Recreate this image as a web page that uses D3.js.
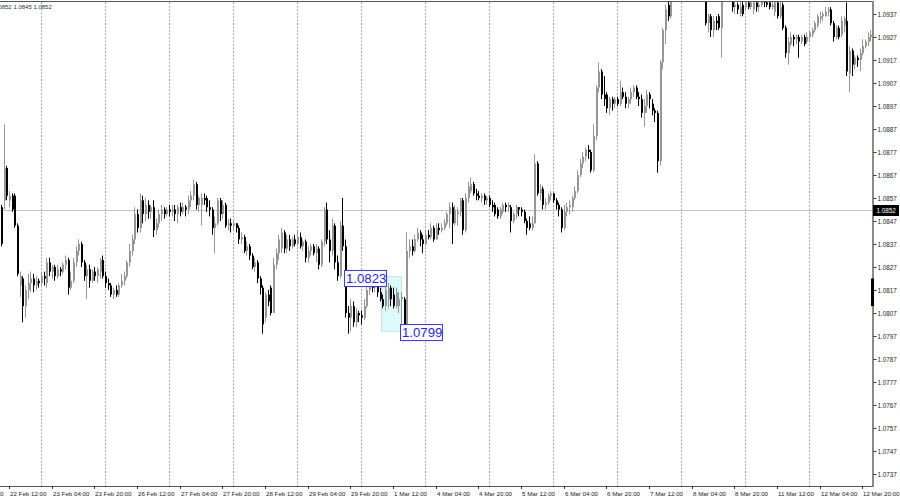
<!DOCTYPE html>
<html><head><meta charset="utf-8">
<script src="https://cdn.jsdelivr.net/npm/d3@7"></script>
<style>
html,body{margin:0;padding:0;background:#fff;}
svg{display:block;font-family:"Liberation Sans",Arial,sans-serif;}
</style></head>
<body><svg id="c" width="900" height="500"></svg>
<script>
// ---------- DATA (EURUSD H1) ----------
const opens = [
1.0853,1.0856,1.0870,1.0856,1.0858,1.0858,1.0845,1.0819,1.0822,1.0810,
1.0817,1.0820,1.0822,1.0819,1.0821,1.0820,1.0823,1.0820,1.0829,1.0825,
1.0827,1.0823,1.0826,1.0825,1.0828,1.0830,1.0818,1.0821,1.0829,1.0834,
1.0837,1.0829,1.0823,1.0826,1.0821,1.0825,1.0823,1.0825,1.0830,1.0823,
1.0820,1.0819,1.0815,1.0817,1.0815,1.0819,1.0821,1.0823,1.0829,1.0834,
1.0839,1.0850,1.0844,1.0856,1.0850,1.0854,1.0851,1.0853,1.0843,1.0846,
1.0850,1.0852,1.0850,1.0852,1.0851,1.0852,1.0850,1.0853,1.0851,1.0853,
1.0852,1.0856,1.0858,1.0863,1.0854,1.0854,1.0857,1.0857,1.0853,1.0852,
1.0844,1.0846,1.0856,1.0850,1.0854,1.0845,1.0846,1.0845,1.0846,1.0844,
1.0839,1.0840,1.0834,1.0836,1.0832,1.0827,1.0829,1.0822,1.0818,1.0805,
1.0815,1.0818,1.0807,1.0828,1.0833,1.0835,1.0842,1.0835,1.0839,1.0836,
1.0839,1.0837,1.0840,1.0836,1.0838,1.0831,1.0834,1.0836,1.0833,1.0835,
1.0828,1.0838,1.0852,1.0839,1.0834,1.0845,1.0829,1.0823,1.0845,1.0836,
1.0807,1.0805,1.0810,1.0803,1.0807,1.0806,1.0805,1.0810,1.0817,1.0820,
1.0818,1.0819,1.0816,1.0813,1.0810,1.0813,1.0818,1.0815,1.0810,1.0810,
1.0813,1.0813,1.0802,1.0834,1.0836,1.0834,1.0839,1.0842,1.0839,1.0837,
1.0841,1.0840,1.0844,1.0839,1.0844,1.0843,1.0844,1.0846,1.0850,1.0853,
1.0846,1.0850,1.0851,1.0856,1.0843,1.0857,1.0860,1.0863,1.0859,1.0858,
1.0857,1.0858,1.0856,1.0857,1.0854,1.0854,1.0852,1.0849,1.0851,1.0854,
1.0853,1.0853,1.0847,1.0850,1.0853,1.0852,1.0851,1.0847,1.0846,1.0844,
1.0846,1.0872,1.0859,1.0861,1.0854,1.0855,1.0858,1.0859,1.0856,1.0854,
1.0852,1.0844,1.0851,1.0853,1.0853,1.0857,1.0860,1.0867,1.0872,1.0875,
1.0878,1.0877,1.0869,1.0884,1.0905,1.0912,1.0902,1.0902,1.0896,1.0900,
1.0898,1.0900,1.0898,1.0903,1.0901,1.0898,1.0900,1.0903,1.0905,1.0901,
1.0900,1.0894,1.0897,1.0902,1.0898,1.0895,1.0894,1.0873,1.0916,1.0930,
1.0941,1.0936,1.0945,1.0950,1.0956,1.0959,1.0955,1.0958,1.0964,1.0962,
1.0966,1.0963,1.0957,1.0952,1.0948,1.0933,1.0936,1.0930,1.0934,1.0936,
1.0931,1.0945,1.0949,1.0947,1.0944,1.0940,1.0941,1.0937,1.0941,1.0940,
1.0942,1.0940,1.0939,1.0942,1.0940,1.0941,1.0944,1.0942,1.0942,1.0940,
1.0938,1.0942,1.0936,1.0941,1.0931,1.0920,1.0924,1.0927,1.0926,1.0927,
1.0925,1.0927,1.0925,1.0927,1.0928,1.0930,1.0932,1.0935,1.0936,1.0936,
1.0938,1.0939,1.0933,1.0927,1.0931,1.0928,1.0932,1.0934,1.0911,1.0921,
1.0915,1.0918,1.0917,1.0920,1.0923,1.0925,1.0927];
const highs = [
1.0854,1.0889,1.0871,1.0860,1.0859,1.0859,1.0846,1.0825,1.0823,1.0819,
1.0824,1.0825,1.0824,1.0823,1.0822,1.0825,1.0825,1.0831,1.0831,1.0828,
1.0828,1.0828,1.0827,1.0829,1.0832,1.0831,1.0825,1.0831,1.0836,1.0839,
1.0838,1.0830,1.0828,1.0828,1.0826,1.0827,1.0827,1.0831,1.0832,1.0825,
1.0822,1.0820,1.0818,1.0819,1.0820,1.0824,1.0825,1.0830,1.0837,1.0841,
1.0853,1.0852,1.0859,1.0858,1.0857,1.0856,1.0854,1.0856,1.0848,1.0852,
1.0854,1.0853,1.0853,1.0854,1.0854,1.0854,1.0854,1.0855,1.0855,1.0854,
1.0858,1.0860,1.0865,1.0864,1.0858,1.0859,1.0859,1.0858,1.0856,1.0853,
1.0849,1.0857,1.0857,1.0856,1.0855,1.0848,1.0848,1.0847,1.0846,1.0845,
1.0842,1.0841,1.0838,1.0837,1.0833,1.0831,1.0830,1.0823,1.0819,1.0816,
1.0817,1.0819,1.0831,1.0835,1.0841,1.0844,1.0843,1.0841,1.0841,1.0840,
1.0841,1.0843,1.0842,1.0839,1.0839,1.0836,1.0837,1.0837,1.0837,1.0836,
1.0839,1.0853,1.0855,1.0843,1.0848,1.0846,1.0832,1.0847,1.0857,1.0839,
1.0810,1.0813,1.0812,1.0809,1.0808,1.0808,1.0813,1.0819,1.0823,1.0822,
1.0821,1.0820,1.0818,1.0815,1.0819,1.0820,1.0819,1.0818,1.0818,1.0816,
1.0816,1.0814,1.0842,1.0839,1.0839,1.0841,1.0844,1.0843,1.0841,1.0843,
1.0843,1.0846,1.0845,1.0846,1.0846,1.0846,1.0848,1.0851,1.0855,1.0855,
1.0854,1.0853,1.0857,1.0857,1.0859,1.0864,1.0866,1.0864,1.0861,1.0860,
1.0859,1.0859,1.0858,1.0858,1.0856,1.0855,1.0853,1.0853,1.0855,1.0855,
1.0855,1.0854,1.0851,1.0854,1.0853,1.0853,1.0852,1.0848,1.0849,1.0849,
1.0876,1.0873,1.0863,1.0862,1.0857,1.0859,1.0860,1.0859,1.0857,1.0855,
1.0853,1.0854,1.0855,1.0856,1.0858,1.0862,1.0869,1.0874,1.0877,1.0879,
1.0880,1.0878,1.0889,1.0906,1.0916,1.0913,1.0910,1.0903,1.0901,1.0901,
1.0901,1.0901,1.0908,1.0905,1.0903,1.0901,1.0905,1.0906,1.0906,1.0903,
1.0902,1.0900,1.0904,1.0903,1.0900,1.0896,1.0895,1.0917,1.0931,1.0941,
1.0943,1.0947,1.0952,1.0958,1.0962,1.0963,1.0960,1.0966,1.0970,1.0968,
1.0972,1.0966,1.0960,1.0956,1.0949,1.0937,1.0937,1.0936,1.0936,1.0937,
1.0947,1.0952,1.0955,1.0951,1.0945,1.0944,1.0942,1.0942,1.0943,1.0944,
1.0944,1.0944,1.0944,1.0943,1.0944,1.0946,1.0946,1.0944,1.0944,1.0944,
1.0944,1.0944,1.0943,1.0942,1.0932,1.0927,1.0929,1.0928,1.0928,1.0928,
1.0928,1.0928,1.0929,1.0930,1.0931,1.0934,1.0937,1.0938,1.0938,1.0940,
1.0940,1.0940,1.0934,1.0932,1.0932,1.0936,1.0936,1.0942,1.0923,1.0922,
1.0919,1.0919,1.0922,1.0926,1.0926,1.0929,1.0930];
const lows = [
1.0836,1.0852,1.0856,1.0853,1.0851,1.0844,1.0823,1.0814,1.0803,1.0805,
1.0813,1.0816,1.0816,1.0817,1.0818,1.0819,1.0819,1.0818,1.0823,1.0822,
1.0821,1.0822,1.0823,1.0824,1.0826,1.0815,1.0817,1.0820,1.0827,1.0832,
1.0827,1.0821,1.0813,1.0818,1.0820,1.0821,1.0820,1.0822,1.0822,1.0818,
1.0817,1.0814,1.0813,1.0814,1.0814,1.0818,1.0819,1.0822,1.0827,1.0832,
1.0837,1.0842,1.0842,1.0846,1.0847,1.0848,1.0848,1.0840,1.0841,1.0844,
1.0847,1.0848,1.0849,1.0849,1.0849,1.0847,1.0846,1.0849,1.0850,1.0849,
1.0850,1.0853,1.0856,1.0852,1.0851,1.0845,1.0854,1.0851,1.0849,1.0841,
1.0833,1.0845,1.0847,1.0848,1.0844,1.0843,1.0842,1.0843,1.0842,1.0837,
1.0837,1.0833,1.0832,1.0830,1.0826,1.0825,1.0820,1.0815,1.0798,1.0803,
1.0810,1.0806,1.0807,1.0826,1.0830,1.0833,1.0833,1.0833,1.0834,1.0835,
1.0836,1.0836,1.0835,1.0834,1.0829,1.0829,1.0832,1.0832,1.0829,1.0826,
1.0827,1.0836,1.0837,1.0829,1.0832,1.0826,1.0821,1.0822,1.0834,1.0805,
1.0798,1.0799,1.0801,1.0801,1.0803,1.0802,1.0804,1.0809,1.0815,1.0816,
1.0816,1.0814,1.0812,1.0809,1.0808,1.0809,1.0810,1.0809,1.0809,1.0807,
1.0799,1.0799,1.0801,1.0831,1.0832,1.0833,1.0838,1.0836,1.0833,1.0836,
1.0839,1.0839,1.0838,1.0839,1.0841,1.0842,1.0843,1.0845,1.0844,1.0837,
1.0845,1.0845,1.0849,1.0841,1.0842,1.0855,1.0859,1.0858,1.0856,1.0856,
1.0855,1.0854,1.0854,1.0853,1.0851,1.0849,1.0848,1.0848,1.0850,1.0851,
1.0851,1.0842,1.0846,1.0848,1.0849,1.0849,1.0846,1.0841,1.0843,1.0843,
1.0846,1.0858,1.0856,1.0852,1.0852,1.0854,1.0856,1.0855,1.0852,1.0849,
1.0842,1.0843,1.0849,1.0850,1.0851,1.0856,1.0859,1.0866,1.0870,1.0873,
1.0874,1.0868,1.0868,1.0882,1.0903,1.0900,1.0897,1.0894,1.0893,1.0895,
1.0896,1.0897,1.0897,1.0900,1.0896,1.0896,1.0898,1.0901,1.0900,1.0897,
1.0892,1.0888,1.0894,1.0896,1.0893,1.0890,1.0868,1.0871,1.0913,1.0924,
1.0934,1.0935,1.0944,1.0948,1.0953,1.0954,1.0951,1.0956,1.0959,1.0958,
1.0961,1.0955,1.0950,1.0946,1.0932,1.0929,1.0927,1.0927,1.0930,1.0930,
1.0918,1.0944,1.0945,1.0944,1.0938,1.0937,1.0937,1.0936,1.0936,1.0939,
1.0939,1.0939,1.0937,1.0938,1.0938,1.0940,1.0940,1.0940,1.0939,1.0939,
1.0936,1.0935,1.0935,1.0930,1.0918,1.0915,1.0923,1.0923,1.0924,1.0918,
1.0924,1.0923,1.0924,1.0925,1.0927,1.0929,1.0931,1.0933,1.0934,1.0936,
1.0936,1.0932,1.0925,1.0926,1.0926,1.0927,1.0929,1.0910,1.0903,1.0910,
1.0913,1.0914,1.0912,1.0919,1.0922,1.0923,1.0925];
const closes = [
1.0837,1.0870,1.0858,1.0858,1.0852,1.0845,1.0824,1.0823,1.0810,1.0817,
1.0820,1.0822,1.0819,1.0821,1.0820,1.0823,1.0822,1.0829,1.0825,1.0827,
1.0823,1.0826,1.0825,1.0828,1.0830,1.0818,1.0821,1.0829,1.0834,1.0837,
1.0829,1.0823,1.0826,1.0821,1.0825,1.0823,1.0826,1.0830,1.0823,1.0820,
1.0819,1.0815,1.0817,1.0815,1.0819,1.0821,1.0823,1.0829,1.0834,1.0839,
1.0850,1.0844,1.0856,1.0850,1.0854,1.0851,1.0853,1.0843,1.0846,1.0850,
1.0852,1.0850,1.0852,1.0851,1.0852,1.0850,1.0853,1.0851,1.0853,1.0852,
1.0856,1.0858,1.0863,1.0854,1.0857,1.0857,1.0856,1.0853,1.0852,1.0844,
1.0846,1.0856,1.0850,1.0854,1.0845,1.0846,1.0845,1.0846,1.0844,1.0839,
1.0840,1.0834,1.0836,1.0832,1.0827,1.0829,1.0822,1.0818,1.0802,1.0815,
1.0812,1.0807,1.0828,1.0833,1.0839,1.0842,1.0835,1.0839,1.0836,1.0839,
1.0837,1.0840,1.0836,1.0838,1.0831,1.0834,1.0836,1.0833,1.0835,1.0828,
1.0838,1.0852,1.0839,1.0834,1.0845,1.0829,1.0823,1.0845,1.0836,1.0807,
1.0805,1.0810,1.0803,1.0807,1.0806,1.0805,1.0810,1.0817,1.0820,1.0818,
1.0819,1.0816,1.0813,1.0810,1.0817,1.0818,1.0813,1.0810,1.0816,1.0813,
1.0814,1.0802,1.0834,1.0836,1.0834,1.0839,1.0842,1.0839,1.0837,1.0841,
1.0840,1.0844,1.0839,1.0844,1.0843,1.0844,1.0846,1.0850,1.0853,1.0846,
1.0852,1.0851,1.0856,1.0843,1.0857,1.0862,1.0863,1.0859,1.0858,1.0857,
1.0858,1.0856,1.0857,1.0854,1.0853,1.0850,1.0849,1.0852,1.0854,1.0853,
1.0854,1.0847,1.0850,1.0853,1.0852,1.0851,1.0847,1.0844,1.0844,1.0846,
1.0872,1.0859,1.0861,1.0854,1.0855,1.0858,1.0859,1.0856,1.0854,1.0852,
1.0844,1.0851,1.0853,1.0854,1.0857,1.0860,1.0867,1.0872,1.0875,1.0878,
1.0877,1.0869,1.0884,1.0905,1.0912,1.0902,1.0900,1.0896,1.0900,1.0898,
1.0900,1.0898,1.0903,1.0901,1.0898,1.0900,1.0903,1.0905,1.0901,1.0900,
1.0894,1.0897,1.0902,1.0900,1.0895,1.0894,1.0873,1.0916,1.0930,1.0939,
1.0936,1.0945,1.0950,1.0956,1.0959,1.0955,1.0958,1.0964,1.0962,1.0966,
1.0963,1.0957,1.0952,1.0948,1.0933,1.0936,1.0930,1.0934,1.0933,1.0931,
1.0945,1.0949,1.0947,1.0946,1.0940,1.0941,1.0939,1.0940,1.0937,1.0942,
1.0940,1.0942,1.0942,1.0940,1.0941,1.0944,1.0942,1.0941,1.0940,1.0941,
1.0942,1.0936,1.0940,1.0931,1.0920,1.0925,1.0927,1.0926,1.0927,1.0925,
1.0927,1.0924,1.0927,1.0929,1.0930,1.0933,1.0936,1.0936,1.0937,1.0938,
1.0939,1.0933,1.0927,1.0931,1.0927,1.0934,1.0935,1.0912,1.0921,1.0915,
1.0918,1.0917,1.0920,1.0923,1.0925,1.0927,1.0928];

const priceTicks = [1.0737,1.0747,1.0757,1.0767,1.0777,1.0787,1.0797,1.0807,1.0817,1.0827,
  1.0837,1.0847,1.0857,1.0867,1.0877,1.0887,1.0897,1.0907,1.0917,1.0927,1.0937];
const timeLabels = ["21 Feb 20:00","22 Feb 12:00","23 Feb 04:00","23 Feb 20:00","26 Feb 12:00",
  "27 Feb 04:00","27 Feb 20:00","28 Feb 12:00","29 Feb 04:00","29 Feb 20:00","1 Mar 12:00",
  "4 Mar 04:00","4 Mar 20:00","5 Mar 12:00","6 Mar 04:00","6 Mar 20:00","7 Mar 12:00",
  "8 Mar 04:00","8 Mar 20:00","11 Mar 12:00","12 Mar 04:00","12 Mar 20:00"];
const timeLabelBars = [-13,3,19,35,51,67,83,99,115,131,147,163,179,195,211,227,243,259,275,291,307,323];
const dayStartBars = [15,39,63,87,111,135,159,183,207,231,255,279,303];
const bidPrice = 1.0852;
const headerText = "EURUSD,H1  1.0852 1.0852 1.0845 1.0852";
const boxStartBar = 143, boxEndBar = 150;
const boxHigh = 1.0823, boxLow = 1.0799;
const axisMarkRange = [1.0810, 1.0822];

// ---------- DRAW ----------
const svg = d3.select("#c");
const W = 900, H = 500;
const plotRight = 872, plotTop = 2, plotBottom = 486;
const n = closes.length;
const x = d3.scaleLinear().domain([0, n - 1]).range([1, 1 + (n - 1) * 8 / 3]);
const y = d3.scaleLinear().domain([1.0737, 1.0937]).range([474, 14]);

svg.append("rect").attr("width", W).attr("height", H).attr("fill", "#fff");
const defs = svg.append("defs");
defs.append("clipPath").attr("id", "plot").append("rect")
  .attr("x", 0).attr("y", plotTop).attr("width", plotRight).attr("height", plotBottom - plotTop);

const plot = svg.append("g").attr("clip-path", "url(#plot)");

// day grid (dotted)
plot.selectAll("line.grid").data(dayStartBars).join("line")
  .attr("x1", d => Math.round(x(d)) + 0.5).attr("x2", d => Math.round(x(d)) + 0.5)
  .attr("y1", plotTop).attr("y2", plotBottom)
  .attr("stroke", "#a8a8a8").attr("stroke-width", 1).attr("stroke-dasharray", "2,1.5");

// rectangle object
plot.append("rect")
  .attr("x", Math.round(x(boxStartBar)) - 0.5).attr("y", Math.round(y(boxHigh)) + 0.5)
  .attr("width", Math.round(x(boxEndBar)) - Math.round(x(boxStartBar)) + 1)
  .attr("height", Math.round(y(boxLow)) - Math.round(y(boxHigh)))
  .attr("fill", "#dcfafa").attr("stroke", "#c8e6ea").attr("stroke-width", 1);

// bid line
plot.append("line").attr("x1", 0).attr("x2", plotRight)
  .attr("y1", Math.round(y(bidPrice)) + 0.5).attr("y2", Math.round(y(bidPrice)) + 0.5)
  .attr("stroke", "#c4c4c4").attr("stroke-width", 1);

// candles
const bars = d3.range(n);
const bull = i => closes[i] >= opens[i];
const col = i => bull(i) ? "#969696" : "#000";
const g = plot.append("g");
g.selectAll("line.w").data(bars).join("line")
  .attr("x1", i => Math.round(x(i)) + 0.5).attr("x2", i => Math.round(x(i)) + 0.5)
  .attr("y1", i => y(highs[i])).attr("y2", i => y(lows[i]))
  .attr("stroke", col).attr("stroke-width", 1);
g.selectAll("rect.b").data(bars).join("rect")
  .attr("x", i => Math.round(x(i)))
  .attr("width", 2)
  .attr("y", i => y(Math.max(opens[i], closes[i])))
  .attr("height", i => Math.max(1, Math.abs(y(opens[i]) - y(closes[i]))))
  .attr("fill", col);

// price labels (objects)
function priceTag(px, py, txt) {
  const gg = svg.append("g");
  gg.append("rect").attr("x", px + 0.5).attr("y", py + 0.5).attr("width", 42).attr("height", 16)
    .attr("fill", "#fff").attr("stroke", "#3a3aff").attr("stroke-width", 1);
  gg.append("text").attr("x", px + 2).attr("y", py + 13).text(txt)
    .attr("font-size", 13.2).attr("fill", "#2323ff");
}
priceTag(Math.round(x(boxStartBar)) - 38, Math.round(y(boxHigh)) - 6, d3.format(".4f")(boxHigh));
priceTag(Math.round(x(boxEndBar)) - 1, Math.round(y(boxLow)) - 7, d3.format(".4f")(boxLow));

// frame: top line, right axis, bottom axis
svg.append("line").attr("x1", 0).attr("x2", plotRight + 1).attr("y1", 1.5).attr("y2", 1.5)
  .attr("stroke", "#555").attr("stroke-width", 1);
svg.append("line").attr("x1", plotRight + 1).attr("x2", plotRight + 1).attr("y1", 1).attr("y2", plotBottom + 1)
  .attr("stroke", "#8a8a8a").attr("stroke-width", 2);
svg.append("line").attr("x1", 0).attr("x2", plotRight + 1).attr("y1", plotBottom + 0.5).attr("y2", plotBottom + 0.5)
  .attr("stroke", "#555").attr("stroke-width", 1);

// right price axis
const yAxis = d3.axisRight(y).tickValues(priceTicks).tickFormat(d3.format(".4f")).tickSize(3).tickPadding(1);
const ya = svg.append("g").attr("transform", `translate(${plotRight + 1.5},0)`).call(yAxis);
ya.select(".domain").remove();
ya.selectAll("line").attr("stroke", "#333");
ya.selectAll("text").attr("font-size", 6.3).attr("fill", "#1a1a1a").attr("font-family", "Liberation Sans, Arial");

// axis mark
svg.append("rect").attr("x", plotRight - 1).attr("width", 3)
  .attr("y", y(axisMarkRange[1])).attr("height", y(axisMarkRange[0]) - y(axisMarkRange[1]))
  .attr("fill", "#000");

// bid price tag
svg.append("rect").attr("x", plotRight + 1).attr("y", Math.round(y(bidPrice)) - 5)
  .attr("width", 26).attr("height", 11).attr("fill", "#000");
svg.append("text").attr("x", plotRight + 4.5).attr("y", Math.round(y(bidPrice)) + 3)
  .text(d3.format(".4f")(bidPrice)).attr("font-size", 6.3).attr("fill", "#fff");

// time axis
const tg = svg.append("g");
timeLabelBars.forEach((b, k) => {
  const tx = Math.round(x(b)) + 0.5;
  tg.append("line").attr("x1", tx).attr("x2", tx).attr("y1", plotBottom).attr("y2", plotBottom + 3)
    .attr("stroke", "#333");
  tg.append("text").attr("x", tx + 0.5).attr("y", 495.5).text(timeLabels[k])
    .attr("font-size", 6.2).attr("fill", "#1a1a1a");
});

// header text (partly off-screen to the left, as in the reference)
svg.append("text").attr("x", -63).attr("y", 9).text(headerText)
  .attr("font-size", 6).attr("fill", "#2b3340");
</script></body></html>
